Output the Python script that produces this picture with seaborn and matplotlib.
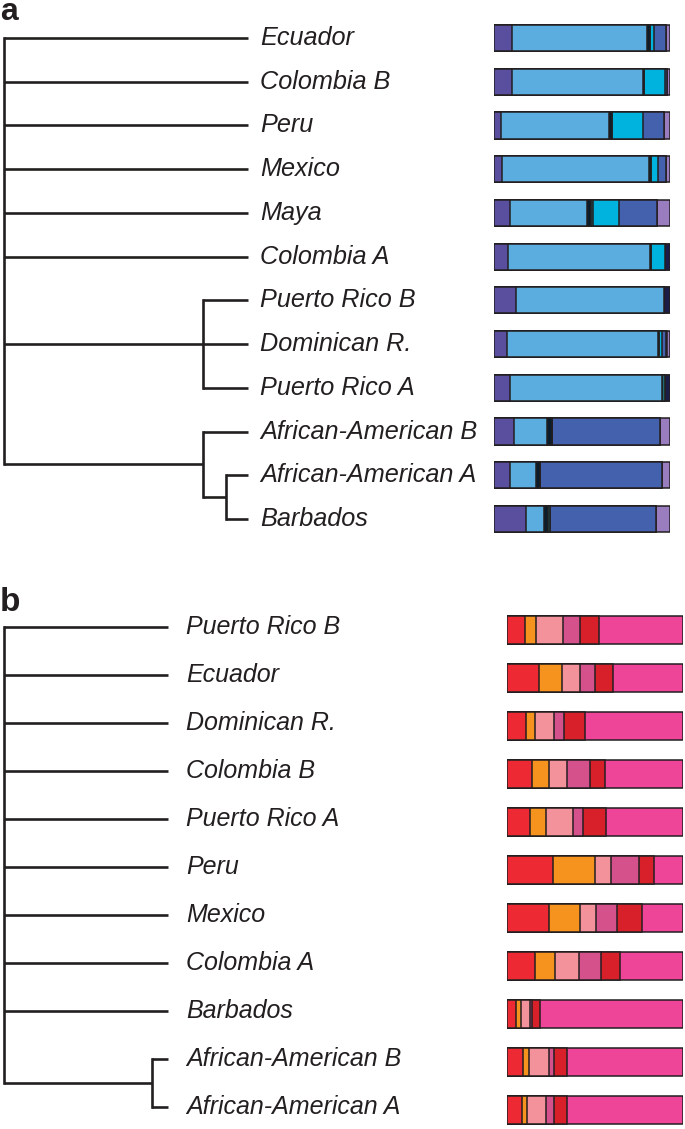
import matplotlib
matplotlib.use("Agg")
import matplotlib.pyplot as plt
import seaborn as sns
import numpy as np

sns.set_theme(style="white")
plt.rcParams['font.family'] = ['Liberation Sans', 'DejaVu Sans']

# ---------------- Data ----------------
labels_a = ["Ecuador", "Colombia B", "Peru", "Mexico", "Maya", "Colombia A",
            "Puerto Rico B", "Dominican R.", "Puerto Rico A",
            "African-American B", "African-American A", "Barbados"]
comp_colors_a = ["#5a4e9f", "#5badE0", "#0b1d2c", "#1b6a75", "#00b3df",
                 "#4461ad", "#1c1c48", "#9a7dbf"]
# proportions per component (purple, lightblue, black, teal, cyan, blue, navy, lavender)
props_a = [
    [0.104, 0.767, 0.013, 0.000, 0.023, 0.072, 0.000, 0.021],  # Ecuador
    [0.104, 0.742, 0.009, 0.000, 0.114, 0.015, 0.000, 0.016],  # Colombia B
    [0.042, 0.612, 0.017, 0.000, 0.178, 0.116, 0.000, 0.035],  # Peru
    [0.047, 0.835, 0.009, 0.000, 0.040, 0.047, 0.000, 0.022],  # Mexico
    [0.089, 0.441, 0.019, 0.013, 0.146, 0.220, 0.000, 0.072],  # Maya
    [0.080, 0.805, 0.006, 0.000, 0.080, 0.000, 0.029, 0.000],  # Colombia A
    [0.127, 0.837, 0.000, 0.000, 0.000, 0.000, 0.036, 0.000],  # Puerto Rico B
    [0.076, 0.856, 0.008, 0.000, 0.015, 0.021, 0.009, 0.015],  # Dominican R.
    [0.089, 0.867, 0.000, 0.013, 0.000, 0.000, 0.031, 0.000],  # Puerto Rico A
    [0.114, 0.188, 0.025, 0.000, 0.000, 0.614, 0.000, 0.059],  # African-American B
    [0.093, 0.144, 0.027, 0.000, 0.000, 0.689, 0.000, 0.047],  # African-American A
    [0.180, 0.104, 0.020, 0.015, 0.000, 0.603, 0.000, 0.078],  # Barbados
]
# tree: (node height, children); ints are leaf indices
tree_a = (0.0, [0, 1, 2, 3, 4, 5, (0.816, [6, 7, 8]), (0.816, [9, (0.910, [10, 11])])])

labels_b = ["Puerto Rico B", "Ecuador", "Dominican R.", "Colombia B", "Puerto Rico A",
            "Peru", "Mexico", "Colombia A", "Barbados",
            "African-American B", "African-American A"]
comp_colors_b = ["#ed2a33", "#f6921e", "#f4929b", "#d5518c", "#d8202a", "#ee4598"]
props_b = [
    [0.104, 0.061, 0.152, 0.100, 0.108, 0.475],  # Puerto Rico B
    [0.184, 0.127, 0.106, 0.081, 0.104, 0.398],  # Ecuador
    [0.110, 0.047, 0.108, 0.061, 0.116, 0.558],  # Dominican R.
    [0.140, 0.097, 0.104, 0.133, 0.081, 0.445],  # Colombia B
    [0.133, 0.089, 0.153, 0.057, 0.131, 0.437],  # Puerto Rico A
    [0.261, 0.237, 0.093, 0.159, 0.083, 0.167],  # Peru
    [0.237, 0.176, 0.093, 0.117, 0.146, 0.231],  # Mexico
    [0.159, 0.116, 0.134, 0.127, 0.108, 0.356],  # Colombia A
    [0.051, 0.028, 0.049, 0.013, 0.047, 0.812],  # Barbados
    [0.091, 0.032, 0.114, 0.028, 0.076, 0.659],  # African-American B
    [0.085, 0.028, 0.110, 0.045, 0.072, 0.660],  # African-American A
]
tree_b = (0.0, [0, 1, 2, 3, 4, 5, 6, 7, 8, (0.902, [9, 10])])

# ---------------- Layout ----------------
W, H = 685, 1129
fig = plt.figure(figsize=(W / 100, H / 100), dpi=100)
TXT = "#231f20"


def px_axes(x0, x1, ytop, ybot):
    ax = fig.add_axes([x0 / W, 1 - ybot / H, (x1 - x0) / W, (ybot - ytop) / H])
    ax.set_axis_off()
    return ax


def draw_tree(ax, node, parent_x=None):
    if isinstance(node, int):
        y = node
        ax.plot([parent_x, 1.0], [y, y], color=TXT, lw=1.9, solid_capstyle='butt', clip_on=False)
        return y
    h, children = node
    ys = [draw_tree(ax, c, h) for c in children]
    ax.plot([h, h], [min(ys), max(ys)], color=TXT, lw=1.9, solid_capstyle='projecting', clip_on=False)
    y = (min(ys) + max(ys)) / 2
    if parent_x is not None:
        ax.plot([parent_x, h], [y, y], color=TXT, lw=1.9, solid_capstyle='butt', clip_on=False)
    return y


def panel(labels, props, colors, tree, tree_x, bar_x, y0, dy, fs, label_off, tree_dy):
    n = len(labels)
    ytop, ybot = y0 - dy / 2, y0 + (n - 0.5) * dy
    axt = px_axes(tree_x[0], tree_x[1], ytop + tree_dy, ybot + tree_dy)
    draw_tree(axt, tree)
    axt.set_xlim(0, 1)
    axt.set_ylim(n - 0.5, -0.5)
    for i, lab in enumerate(labels):
        axt.annotate(lab, xy=(1.0, i), xytext=(label_off, 0), textcoords='offset points',
                     ha='left', va='center', fontsize=fs, style='italic', color=TXT)
    axb = px_axes(bar_x[0], bar_x[1], ytop, ybot)
    P = np.array(props)
    cum = np.cumsum(P, axis=1)
    for k in range(P.shape[1] - 1, -1, -1):
        sns.barplot(x=cum[:, k], y=labels, order=labels, orient='h', color=colors[k],
                    saturation=1, edgecolor=TXT, linewidth=1.1, width=0.6, ax=axb)
    axb.set_xlim(0, 1)
    axb.set_ylim(n - 0.5, -0.5)
    axb.set_axis_off()
    return axt, axb


panel(labels_a, props_a, comp_colors_a, tree_a, (4, 248), (494, 670), 38, 43.73, 18.2, 9.0, 0)
panel(labels_b, props_b, comp_colors_b, tree_b, (4, 168), (507, 683), 630, 48, 18.0, 13.0, -3)

fig.text(0 / W, 1 - 19.5 / H, "a", fontsize=23, weight='bold', color=TXT, va='baseline')
fig.text(0 / W, 1 - 611 / H, "b", fontsize=24, weight='bold', color=TXT, va='baseline')

fig.savefig("out.png", dpi=100)
